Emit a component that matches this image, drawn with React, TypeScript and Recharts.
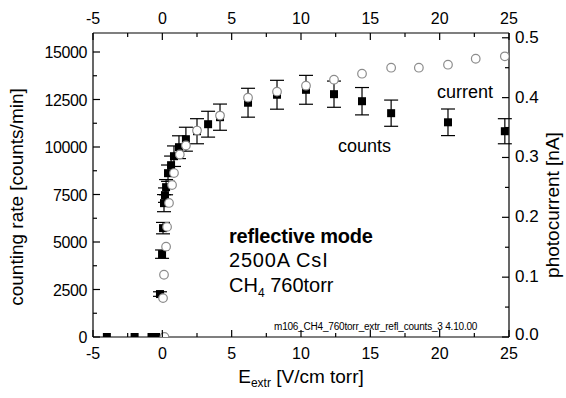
import { ComposedChart, ErrorBar, Scatter, XAxis, YAxis } from "recharts"

// counts (left axis), filled squares with error bars
const countsX = [-4.0, -2.0, -0.78, -0.45, -0.17, -0.02, 0.05, 0.12, 0.19, 0.27, 0.41, 0.63, 0.84, 1.2, 1.7, 2.5, 3.3, 4.16, 6.18, 8.27, 10.36, 12.38, 14.4, 16.5, 20.6, 24.7]
const countsY = [0, 0, 0, 0, 2260, 4360, 5730, 7045, 7466, 7886, 8622, 9043, 9516, 9990, 10410, 10830, 11200, 11570, 12330, 12750, 13010, 12780, 12410, 11780, 11300, 10830]
const countsErr = [0, 0, 0, 0, 120, 220, 300, 450, 380, 400, 430, 480, 540, 600, 630, 660, 680, 690, 760, 760, 760, 690, 720, 690, 700, 660]

// photocurrent (right axis), open circles
const currentX = [0.15, 0.05, 0.12, 0.27, 0.34, 0.48, 0.7, 0.84, 1.26, 1.7, 2.5, 4.16, 6.18, 8.27, 10.36, 12.38, 14.4, 16.5, 18.5, 20.6, 22.6, 24.7]
const currentY = [0.0, 0.065, 0.104, 0.151, 0.184, 0.224, 0.254, 0.274, 0.305, 0.32, 0.345, 0.37, 0.4, 0.41, 0.42, 0.43, 0.44, 0.45, 0.45, 0.455, 0.465, 0.469]

const xTicks = [-5, -2.5, 0, 2.5, 5, 7.5, 10, 12.5, 15, 17.5, 20, 22.5, 25]
const leftTicks = [0, 1250, 2500, 3750, 5000, 6250, 7500, 8750, 10000, 11250, 12500, 13750, 15000]
const rightTicks = [0, 0.05, 0.1, 0.15, 0.2, 0.25, 0.3, 0.35, 0.4, 0.45, 0.5]

const countsData = countsX.map((x, i) => ({ x, y: countsY[i], err: countsErr[i] }))
const currentData = currentX.map((x, i) => ({ x, y: currentY[i] }))

const W = 566
const H = 398
const L = 93
const R = 509
const T = 33
const B = 337
const FONT = '"Liberation Sans", Arial, sans-serif'

const isMajor = (v: number, step: number) => Math.abs(v / step - Math.round(v / step)) < 1e-6

function BottomTick(props: any) {
  const { x, payload } = props
  const major = isMajor(payload.value, 5)
  return (
    <g>
      <line x1={x} x2={x} y1={B} y2={B - (major ? 7 : 4)} stroke="#000" strokeWidth={1.2} />
      {major && (
        <text x={x} y={359} textAnchor="middle" fontSize={16} fill="#000" fontFamily={FONT}>
          {payload.value}
        </text>
      )}
    </g>
  )
}

function TopTick(props: any) {
  const { x, payload } = props
  const major = isMajor(payload.value, 5)
  return (
    <g>
      <line x1={x} x2={x} y1={T} y2={T + (major ? 7 : 4)} stroke="#000" strokeWidth={1.2} />
      {major && (
        <text x={x} y={24} textAnchor="middle" fontSize={16} fill="#000" fontFamily={FONT}>
          {payload.value}
        </text>
      )}
    </g>
  )
}

function LeftTick(props: any) {
  const { y, payload } = props
  const major = isMajor(payload.value, 2500)
  return (
    <g>
      <line x1={L} x2={L + (major ? 7 : 4)} y1={y} y2={y} stroke="#000" strokeWidth={1.2} />
      {major && (
        <text x={87} y={y + 6} textAnchor="end" fontSize={16} fill="#000" fontFamily={FONT} letterSpacing={-0.4}>
          {payload.value}
        </text>
      )}
    </g>
  )
}

function RightTick(props: any) {
  const { y, payload } = props
  const major = isMajor(payload.value, 0.1)
  return (
    <g>
      <line x1={R} x2={R - (major ? 7 : 4)} y1={y} y2={y} stroke="#000" strokeWidth={1.2} />
      {major && (
        <text x={515} y={payload.value === 0 ? y + 3 : y + 5} textAnchor="start" fontSize={17} fill="#000" fontFamily={FONT}>
          {payload.value.toFixed(1)}
        </text>
      )}
    </g>
  )
}

function SquareMark(props: any) {
  const { cx, cy } = props
  return <rect x={cx - 4} y={cy - 4} width={8} height={8} fill="#000" />
}

function CircleMark(props: any) {
  const { cx, cy } = props
  return <circle cx={cx} cy={cy} r={4.3} fill="#fff" stroke="#8c8c8c" strokeWidth={1.2} />
}

const txt = (extra: React.CSSProperties): React.CSSProperties => ({
  position: "absolute",
  fontFamily: FONT,
  color: "#000",
  whiteSpace: "nowrap",
  lineHeight: "20px",
  ...extra,
})

export default function App() {
  return (
    <div style={{ position: "absolute", left: 0, top: 0, width: W, height: H, background: "#fff" }}>
      <ComposedChart width={W} height={H} margin={{ top: 0, right: 0, bottom: 0, left: 0 }}>
        <XAxis
          xAxisId="bottom"
          type="number"
          dataKey="x"
          domain={[-5, 25]}
          ticks={xTicks}
          allowDataOverflow
          height={H - B}
          axisLine={{ stroke: "#000", strokeWidth: 1.2 }}
          tickLine={false}
          tickSize={0}
          tick={<BottomTick />}
          interval={0}
        />
        <XAxis
          xAxisId="top"
          orientation="top"
          type="number"
          dataKey="x"
          domain={[-5, 25]}
          ticks={xTicks}
          allowDataOverflow
          height={T}
          axisLine={{ stroke: "#000", strokeWidth: 1.2 }}
          tickLine={false}
          tickSize={0}
          tick={<TopTick />}
          interval={0}
        />
        <YAxis
          yAxisId="left"
          type="number"
          dataKey="y"
          domain={[0, 16000]}
          ticks={leftTicks}
          allowDataOverflow
          width={L}
          axisLine={{ stroke: "#000", strokeWidth: 1.2 }}
          tickLine={false}
          tickSize={0}
          tick={<LeftTick />}
          interval={0}
        />
        <YAxis
          yAxisId="right"
          orientation="right"
          type="number"
          dataKey="y"
          domain={[0, 0.508]}
          ticks={rightTicks}
          allowDataOverflow
          width={W - R}
          axisLine={{ stroke: "#000", strokeWidth: 1.2 }}
          tickLine={false}
          tickSize={0}
          tick={<RightTick />}
          interval={0}
        />
        <Scatter
          data={countsData}
          xAxisId="bottom"
          yAxisId="left"
          shape={<SquareMark />}
          isAnimationActive={false}
        >
          <ErrorBar dataKey="err" direction="y" width={7} stroke="#000" strokeWidth={1.2} />
        </Scatter>
        <Scatter
          data={currentData}
          xAxisId="top"
          yAxisId="right"
          shape={<CircleMark />}
          isAnimationActive={false}
        />
      </ComposedChart>

      <div
        style={txt({
          left: 17,
          top: 197,
          fontSize: 19,
          transform: "translate(-50%, -50%) rotate(-90deg)",
        })}
      >
        counting rate [counts/min]
      </div>
      <div
        style={txt({
          left: 553,
          top: 205,
          fontSize: 19,
          transform: "translate(-50%, -50%) rotate(-90deg)",
        })}
      >
        photocurrent [nA]
      </div>
      <div style={txt({ left: 301, top: 380, fontSize: 19, transform: "translate(-50%, -50%)" })}>
        E<sub style={{ fontSize: 12 }}>extr</sub> [V/cm torr]
      </div>

      <div style={txt({ left: 229, top: 226, fontSize: 20, fontWeight: "bold", letterSpacing: -0.2 })}>reflective mode</div>
      <div style={txt({ left: 229, top: 250, fontSize: 20, letterSpacing: 0.8 })}>2500A CsI</div>
      <div style={txt({ left: 229, top: 275, fontSize: 20 })}>
        CH<sub style={{ fontSize: 12 }}>4</sub> 760torr
      </div>
      <div style={txt({ left: 338, top: 136, fontSize: 18 })}>counts</div>
      <div style={txt({ left: 437, top: 82, fontSize: 18 })}>current</div>
      <div style={txt({ left: 274, top: 320, fontSize: 10, lineHeight: "14px", letterSpacing: -0.2 })}>
        m106_CH4_760torr_extr_refl_counts_3 4.10.00
      </div>
    </div>
  )
}
